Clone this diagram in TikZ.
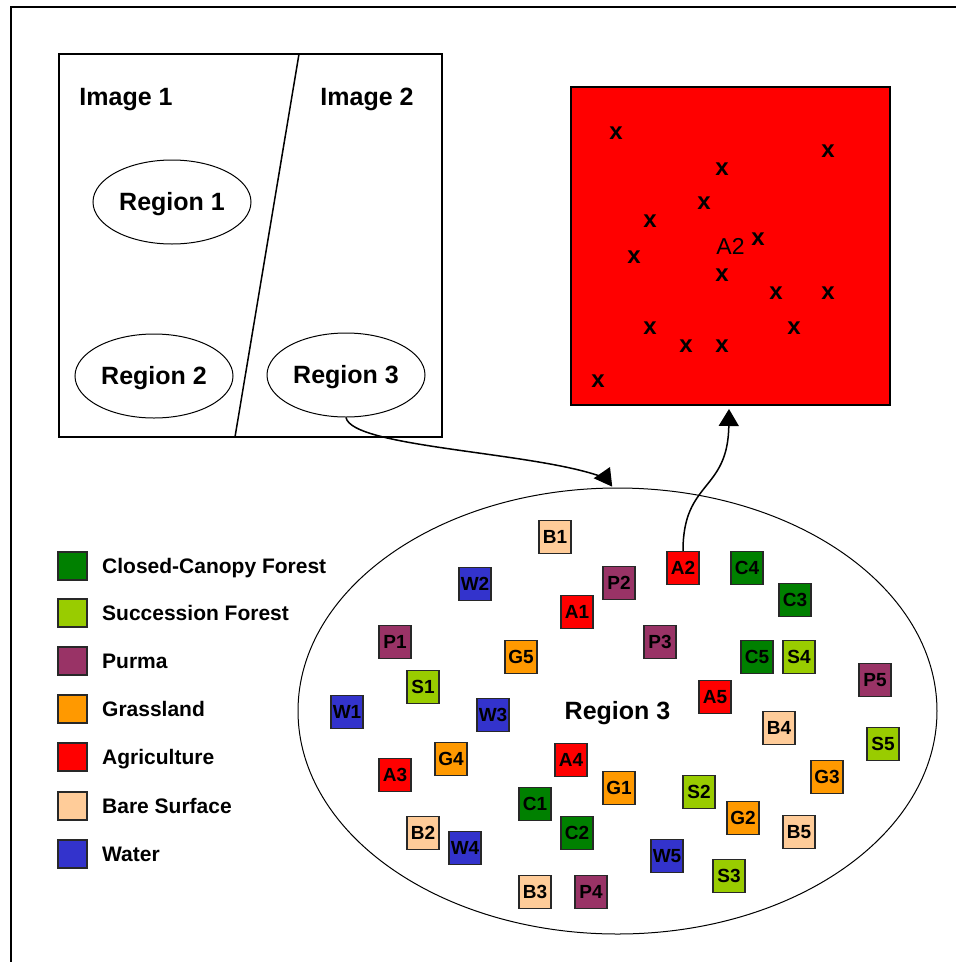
\documentclass[tikz,border=0pt]{standalone}
\usepackage{fontspec}
\setmainfont{Liberation Sans}
\usetikzlibrary{shapes.geometric,arrows.meta}
\definecolor{ccf}{RGB}{0,128,0}
\definecolor{suc}{RGB}{153,204,0}
\definecolor{pur}{RGB}{153,51,102}
\definecolor{gra}{RGB}{255,153,0}
\definecolor{agr}{RGB}{255,0,0}
\definecolor{bar}{RGB}{255,204,153}
\definecolor{wat}{RGB}{51,51,204}
\definecolor{edgec}{RGB}{40,40,40}
\begin{document}
\begin{tikzpicture}[x=1pt,y=-1pt,
  lbl/.style={font=\fontsize{25}{25}\selectfont\bfseries, inner sep=0pt, text height=17.9pt, text depth=0pt},
  reg/.style={draw, ellipse, line width=1pt, minimum width=158pt, minimum height=84pt, inner sep=0pt, lbl},
  cell/.style={draw=edgec, line width=1.5pt, minimum width=32pt, minimum height=33pt, inner sep=0pt, font=\fontsize{19}{19}\selectfont\bfseries, text height=13.6pt, text depth=0pt},
  keybox/.style={draw=edgec, line width=1.5pt, minimum width=29pt, minimum height=28pt, inner sep=0pt},
  keytext/.style={anchor=west, inner sep=0pt, font=\fontsize{21}{21}\selectfont\bfseries, text height=15pt, text depth=0pt},
  cross/.style={inner sep=0pt, font=\fontsize{24}{24}\selectfont\bfseries, text height=12.5pt, text depth=0pt},
  conn/.style={line width=1.5pt, -{Triangle[length=17pt,width=20pt]}}
]
\useasboundingbox (0,0) rectangle (956,962);
% outer frame
\coordinate (fr1) at (956,7);
\coordinate (fr2) at (11,7);
\coordinate (fr3) at (11,962);
\draw[line width=2pt] (fr1) -- (fr2) -- (fr3);

% image box
\node[draw, line width=1.5pt, minimum width=383pt, minimum height=383pt, inner sep=0pt] (img) at (250.5,245.5) {};
\coordinate (d1) at (299,54);
\coordinate (d2) at (235,437);
\draw[line width=1.5pt] (d1) -- (d2);
\node[lbl] (im1) at (126,97) {Image 1};
\node[lbl] (im2) at (367,97) {Image 2};
\node[reg] (r1) at (172,202) {Region 1};
\node[reg] (r2) at (154,376) {Region 2};
\node[reg] (r3) at (346,375) {Region 3};

% red square
\node[draw, fill=agr, line width=1.5pt, minimum width=319pt, minimum height=318pt, inner sep=0pt,
  font=\fontsize{23}{23}\selectfont, text height=16.5pt, text depth=0pt] (big) at (730.5,246) {A2};
\foreach \i/\x/\y in {1/616/133, 2/828/151, 3/722/169, 4/704/203, 5/650/221, 6/758/239, 7/634/257, 8/722/275, 9/776/293, 10/828/293, 11/650/328, 12/794/328, 13/686/346, 14/722/346, 15/598/381}
  \node[cross] (x\i) at (\x,\y) {x};

% big ellipse
\node[draw, ellipse, line width=1pt, minimum width=639pt, minimum height=446pt, inner sep=0pt, lbl] (reg3) at (617.5,711) {Region 3};

% cells
\foreach \n/\c/\x/\y in {B1/bar/555/537, W2/wat/475/584, P2/pur/619/583, A1/agr/577/612, P1/pur/395/642, G5/gra/521/657, S1/suc/423/687, A2/agr/683/568, C4/ccf/747/568, C3/ccf/795/600, P3/pur/660/642, C5/ccf/757/657, S4/suc/799/657, P5/pur/875/680, A5/agr/715/697, B4/bar/779/728, S5/suc/883/744, W1/wat/347/712, W3/wat/493/715, G4/gra/451/759, A4/agr/571/760, A3/agr/395/775, G1/gra/619/788, C1/ccf/535/804, C2/ccf/577/833, B2/bar/423/833, W4/wat/465/848, B3/bar/535/892, P4/pur/591/892, G3/gra/827/777, S2/suc/699/792, G2/gra/743/818, B5/bar/799/832, W5/wat/667/856, S3/suc/729/876}
  \node[cell, fill=\c] (c\n) at (\x,\y) {\n};

% legend
\foreach \k/\c/\y/\t in {1/ccf/566/Closed-Canopy Forest, 2/suc/613/Succession Forest, 3/pur/661/Purma, 4/gra/709/Grassland, 5/agr/757/Agriculture, 6/bar/806/Bare Surface, 7/wat/854/Water}{
  \node[keybox, fill=\c] (k\k) at (72.5,\y) {};
  \node[keytext] (kt\k) at (102,\y) {\t};
}

% connectors
\coordinate (t1) at (610,467);
\coordinate (t2) at (729,409);
\draw[conn] (r3.south) .. controls (352,448) and (540,452) .. (605,478) -- (t1);
\draw[conn] (cA2.north) .. controls (683,480) and (728,492) .. (t2);
\end{tikzpicture}
\end{document}
